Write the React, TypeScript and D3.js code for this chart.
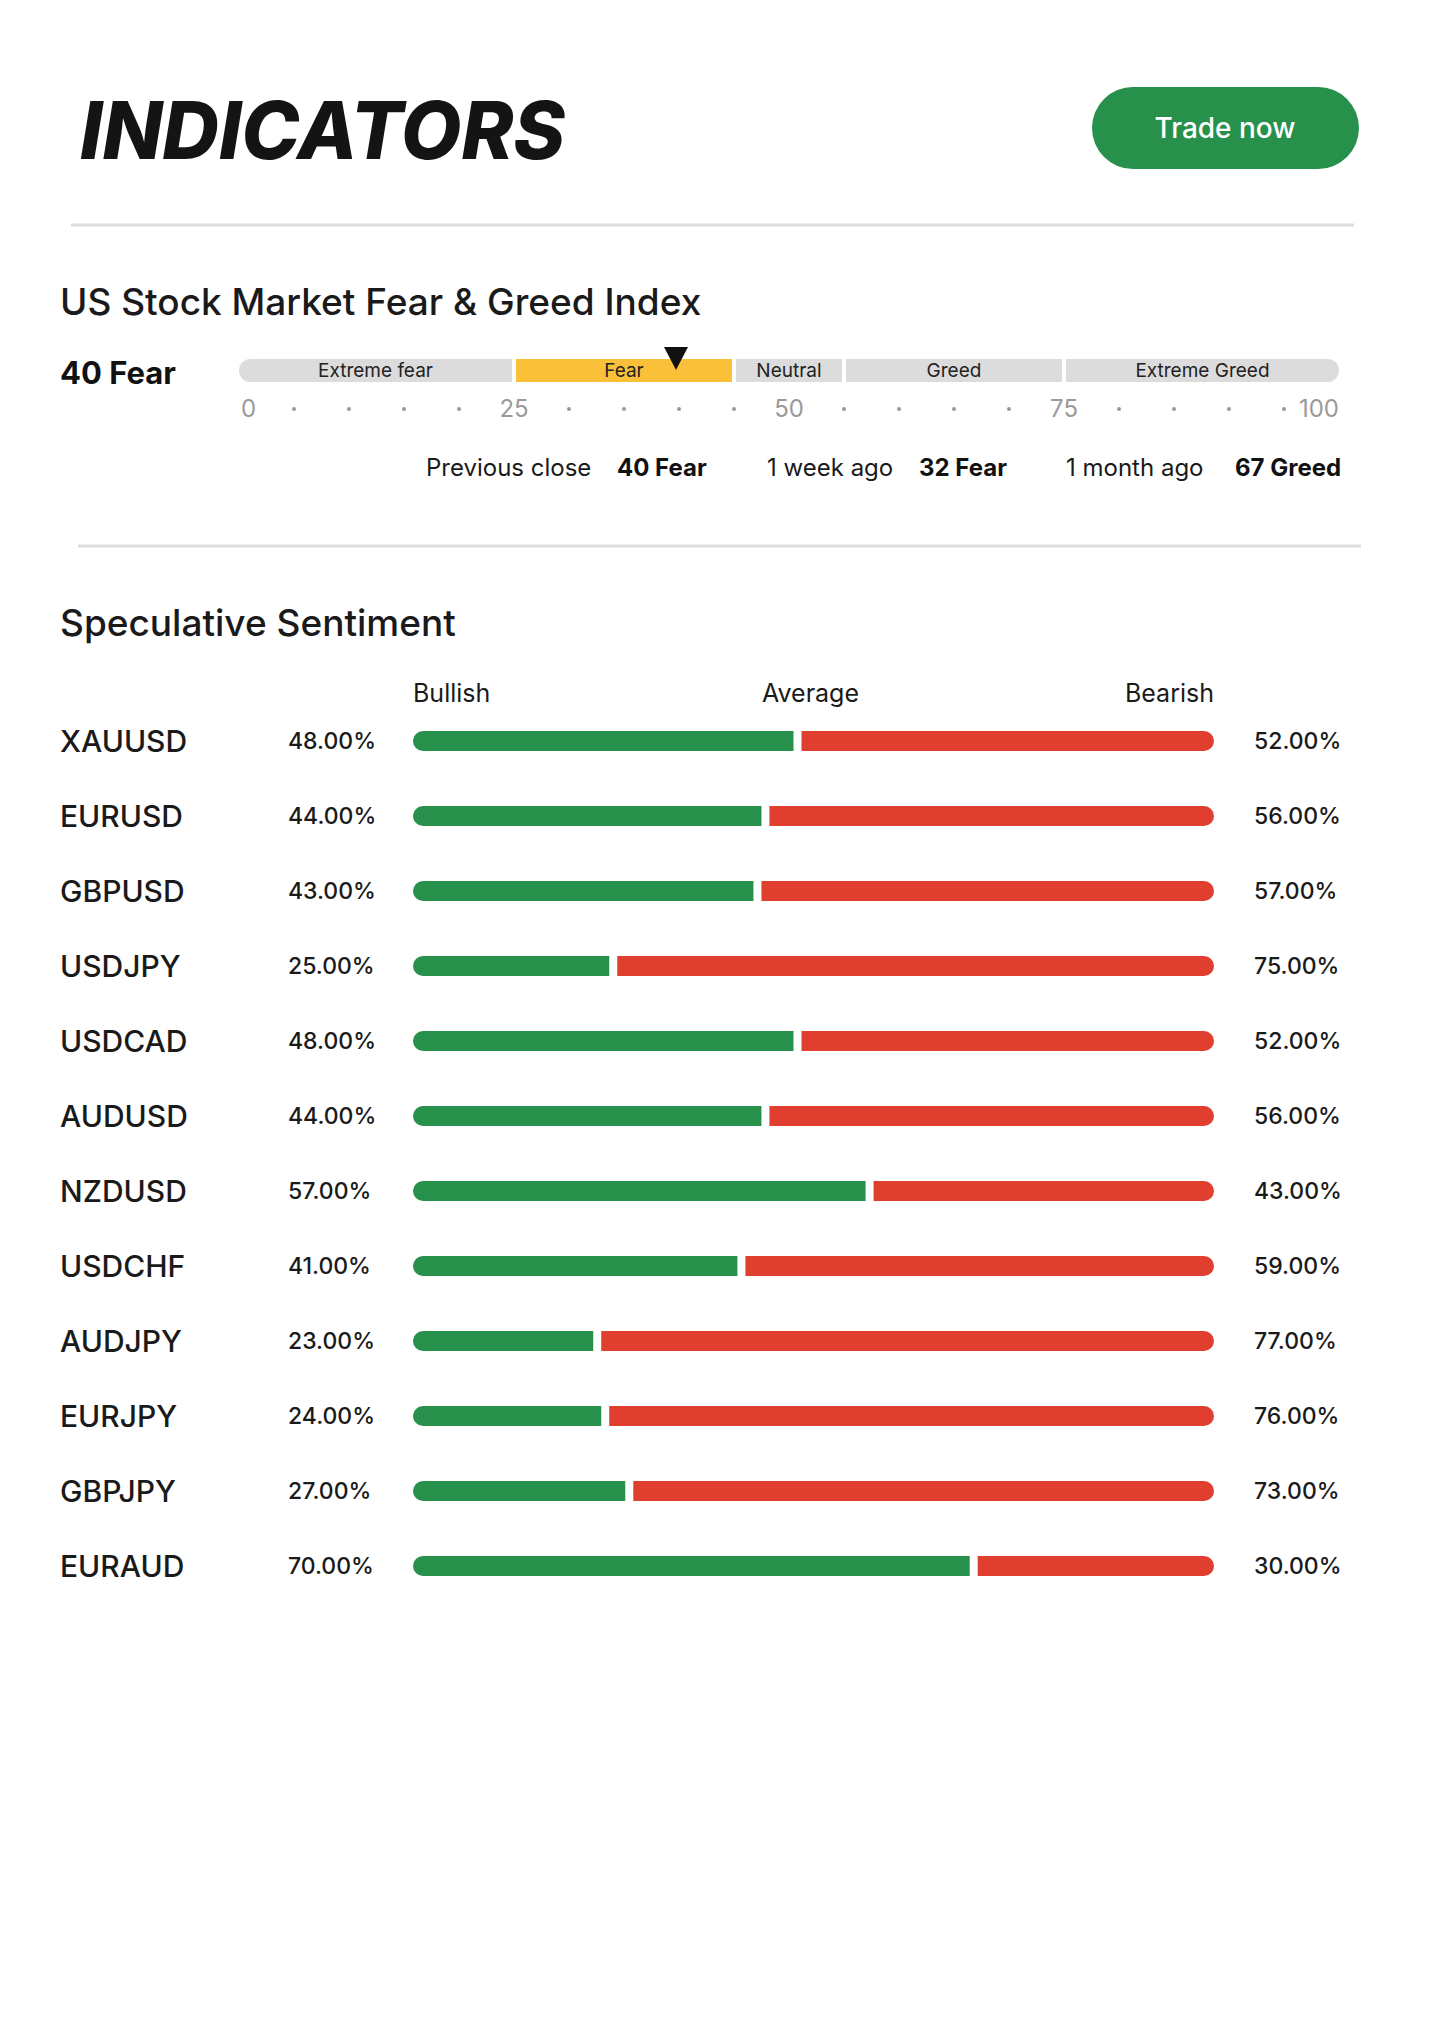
import React from 'react';
import * as d3 from 'd3';

// --- data ---
const pairs = ['XAUUSD', 'EURUSD', 'GBPUSD', 'USDJPY', 'USDCAD', 'AUDUSD', 'NZDUSD', 'USDCHF', 'AUDJPY', 'EURJPY', 'GBPJPY', 'EURAUD'];
const bullish = [48, 44, 43, 25, 48, 44, 57, 41, 23, 24, 27, 70];

const zoneLabels = ['Extreme fear', 'Fear', 'Neutral', 'Greed', 'Extreme Greed'];
const zoneBreaks = [0, 25, 45, 55, 75, 100];
const gaugeTicks = [0, 25, 50, 75, 100];
const gaugeValue = 40;
const gaugeLabel = '40 Fear';

const historyLabels = ['Previous close', '1 week ago', '1 month ago'];
const historyValues = ['40 Fear', '32 Fear', '67 Greed'];

const headerLabels = ['Bullish', 'Average', 'Bearish'];

const W = 1440;
const H = 2038;
const FONT = 'Inter, "Noto Sans", sans-serif';
const GREEN = '#27914c';
const RED = '#e03f30';
const YELLOW = '#fbc03a';
const GREY = '#dcdcdc';

// rect with one or both ends rounded (full radius)
function halfPill(x0: number, x1: number, y: number, h: number, side: 'left' | 'right' | 'both' | 'none') {
  const r = h / 2;
  const p = d3.path();
  if (side === 'left' || side === 'both') {
    p.moveTo(x0 + r, y);
  } else {
    p.moveTo(x0, y);
  }
  if (side === 'right' || side === 'both') {
    p.lineTo(x1 - r, y);
    p.arc(x1 - r, y + r, r, -Math.PI / 2, Math.PI / 2);
  } else {
    p.lineTo(x1, y);
    p.lineTo(x1, y + h);
  }
  if (side === 'left' || side === 'both') {
    p.lineTo(x0 + r, y + h);
    p.arc(x0 + r, y + r, r, Math.PI / 2, (3 * Math.PI) / 2);
  } else {
    p.lineTo(x0, y + h);
  }
  p.closePath();
  return p.toString();
}

export default function App() {
  // gauge
  const gx = d3.scaleLinear().domain([0, 100]).range([239, 1339]);
  const gaugeY = 359;
  const gaugeH = 23;
  const dotVals = d3.range(0, 101, 5).filter(v => v % 25 !== 0);

  // sentiment bars
  const bx = d3.scaleLinear().domain([0, 100]).range([413, 1214]);
  const ry = d3.scalePoint<string>().domain(pairs).range([741, 1566]);
  const barH = 20;
  const gap = 4;

  const historyX = [426, 767, 1066];
  const historyValX = [617, 919, 1235];

  const mx = gx(gaugeValue) - 3;

  return (
    <svg width={W} height={H} style={{ position: 'absolute', left: 0, top: 0, background: '#fff' }} fontFamily={FONT}>
      <rect width={W} height={H} fill="#fff" />

      {/* header */}
      <text x={80} y={159} fontSize={80} fontWeight={800} fontStyle="italic" fill="#141414" textLength={485} lengthAdjust="spacingAndGlyphs">
        INDICATORS
      </text>
      <rect x={1092} y={87} width={267} height={82} rx={41} fill={GREEN} />
      <text x={1225} y={138} fontSize={28} fontWeight={500} fill="#fff" textAnchor="middle">Trade now</text>
      <line x1={71} x2={1354} y1={225} y2={225} stroke="#dedede" strokeWidth={3} />

      {/* fear & greed */}
      <text x={60} y={315} fontSize={37} fontWeight={500} fill="#1a1a1a">US Stock Market Fear &amp; Greed Index</text>
      <text x={60} y={384} fontSize={31} fontWeight={700} fill="#111">{gaugeLabel}</text>

      {zoneLabels.map((lab, i) => {
        const from = zoneBreaks[i];
        const to = zoneBreaks[i + 1];
        const first = i === 0;
        const last = i === zoneLabels.length - 1;
        const x0 = gx(from) + (first ? 0 : 2);
        const x1 = gx(to) - (last ? 0 : 2);
        const active = gaugeValue >= from && gaugeValue < to;
        return (
          <g key={lab}>
            <path d={halfPill(x0, x1, gaugeY, gaugeH, first ? 'left' : last ? 'right' : 'none')} fill={active ? YELLOW : GREY} />
            <text x={(x0 + x1) / 2} y={gaugeY + 18} fontSize={19} fill="#222" textAnchor="middle">{lab}</text>
          </g>
        );
      })}
      <path d={`M${mx - 12},${gaugeY - 12} L${mx + 12},${gaugeY - 12} L${mx},${gaugeY + 11} Z`} fill="#111" />
      {gaugeTicks.map((t, i) => (
        <text
          key={t}
          x={i === 0 ? gx(t) + 2 : gx(t)}
          y={417}
          fontSize={24}
          fill="#9a9a9a"
          textAnchor={i === 0 ? 'start' : i === gaugeTicks.length - 1 ? 'end' : 'middle'}
        >
          {t}
        </text>
      ))}
      {dotVals.map(v => (
        <circle key={v} cx={gx(v)} cy={409} r={2} fill="#9a9a9a" />
      ))}

      {historyLabels.map((lab, i) => (
        <g key={lab}>
          <text x={historyX[i]} y={476} fontSize={24} fill="#1a1a1a">{lab}</text>
          <text x={historyValX[i]} y={476} fontSize={24} fontWeight={700} fill="#111">{historyValues[i]}</text>
        </g>
      ))}

      <line x1={78} x2={1361} y1={546} y2={546} stroke="#dedede" strokeWidth={3} />

      {/* speculative sentiment */}
      <text x={60} y={636} fontSize={37} fontWeight={500} fill="#1a1a1a">Speculative Sentiment</text>
      {headerLabels.map((lab, i) => (
        <text
          key={lab}
          x={[bx(0), bx(50) - 3, bx(100)][i]}
          y={702}
          fontSize={25}
          fill="#1a1a1a"
          textAnchor={i === 0 ? 'start' : i === 1 ? 'middle' : 'end'}
        >
          {lab}
        </text>
      ))}

      {pairs.map((p, i) => {
        const cy = ry(p) as number;
        const b = bullish[i];
        const split = bx(b);
        return (
          <g key={p}>
            <text x={60} y={cy + 11} fontSize={30} fontWeight={500} fill="#1a1a1a">{p}</text>
            <text x={288} y={cy + 8} fontSize={23} fontWeight={500} fill="#1a1a1a">{b.toFixed(2)}%</text>
            <path d={halfPill(bx(0), split - gap, cy - barH / 2, barH, 'left')} fill={GREEN} />
            <path d={halfPill(split + gap, bx(100), cy - barH / 2, barH, 'right')} fill={RED} />
            <text x={1254} y={cy + 8} fontSize={23} fontWeight={500} fill="#1a1a1a">{(100 - b).toFixed(2)}%</text>
          </g>
        );
      })}
    </svg>
  );
}
